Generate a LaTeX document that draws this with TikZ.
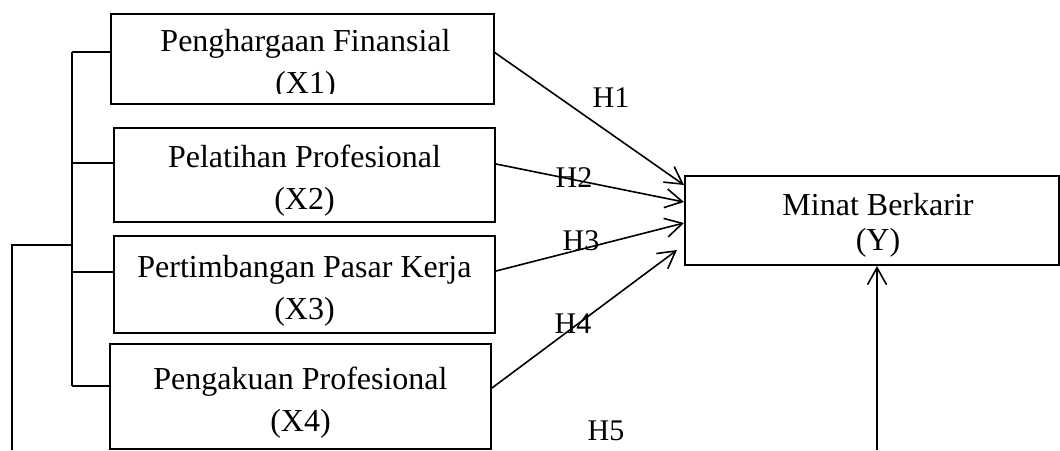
\documentclass[tikz,border=0pt]{standalone}
\usepackage{fontspec}
\setmainfont{Liberation Serif}
\usetikzlibrary{arrows.meta}
\begin{document}
\begin{tikzpicture}[x=1pt,y=-1pt,
  box/.style={draw, line width=2pt, rectangle, align=center, font=\fontsize{32}{42}\selectfont, inner sep=0pt},
  conn/.style={line width=1.9pt},
  arr/.style={line width=1.6pt, -{Straight Barb[length=17pt,width=19pt]}},
  hlab/.style={font=\fontsize{30}{36}\selectfont, anchor=base, inner sep=0pt}]
\useasboundingbox (0,0) rectangle (1060,450);
% boxes
\begin{scope}
\clip (100,0) rectangle (500,93.5);
\node[box, draw=none, minimum width=381pt, minimum height=88pt] (X1) at (302.5,59) {\rule{0pt}{34pt}\hspace*{6pt}Penghargaan Finansial\\\hspace*{6pt}(X1)};
\end{scope}
\draw[line width=2pt] (X1.south west) rectangle (X1.north east);
\node[box, minimum width=381pt, minimum height=94pt] (X2) at (304.5,175) {\rule{0pt}{34pt}Pelatihan Profesional\\(X2)};
\node[box, minimum width=381pt, minimum height=97pt] (X3) at (304.5,284.5) {\rule{0pt}{34pt}Pertimbangan Pasar Kerja\\(X3)};
\node[box, minimum width=381pt, minimum height=105pt] (X4) at (300.5,396.5) {\rule{0pt}{34pt}Pengakuan Profesional\\(X4)};
\node[box, font=\fontsize{32}{35}\selectfont, minimum width=374pt, minimum height=89pt] (Y) at (872,220.5) {\rule{0pt}{32pt}\hspace*{12pt}Minat Berkarir\\\hspace*{12pt}(Y)};
% bracket on the left
\coordinate (bt) at (72,52);
\coordinate (bb) at (72,386);
\coordinate (b1) at ([yshift=7pt]X1.west);
\coordinate (b2) at ([yshift=12pt]X2.west);
\coordinate (b3) at ([yshift=12.5pt]X3.west);
\coordinate (b4) at ([yshift=10.5pt]X4.west);
\draw[conn] (bt) -- (bb);
\draw[conn] (b1) -- (bt |- b1);
\draw[conn] (b2) -- (bt |- b2);
\draw[conn] (b3) -- (bt |- b3);
\draw[conn] (b4) -- (bt |- b4);
\coordinate (o1) at (72,245);
\coordinate (o2) at (12,245);
\coordinate (o3) at (12,450);
\draw[conn] (o1) -- (o2) -- (o3);
% arrows to Y
\draw[arr] ([yshift=7pt]X1.east) -- ([yshift=35.5pt]Y.west);
\draw[arr] ([yshift=11pt]X2.east) -- ([yshift=18.5pt]Y.west);
\draw[arr] ([yshift=13.5pt]X3.east) -- ([yshift=-2.5pt]Y.west);
\draw[arr] ([yshift=8.5pt]X4.east) -- ([xshift=-7pt,yshift=-29.5pt]Y.west);
\coordinate (ybot) at (877,450);
\draw[arr] (ybot) -- (ybot |- Y.south);
% labels
\node[hlab] (H1) at (611,107) {H1};
\node[hlab] (H2) at (574,187) {H2};
\node[hlab] (H3) at (581,250) {H3};
\node[hlab] (H4) at (573,333) {H4};
\node[hlab] (H5) at (606,440) {H5};
\end{tikzpicture}
\end{document}
